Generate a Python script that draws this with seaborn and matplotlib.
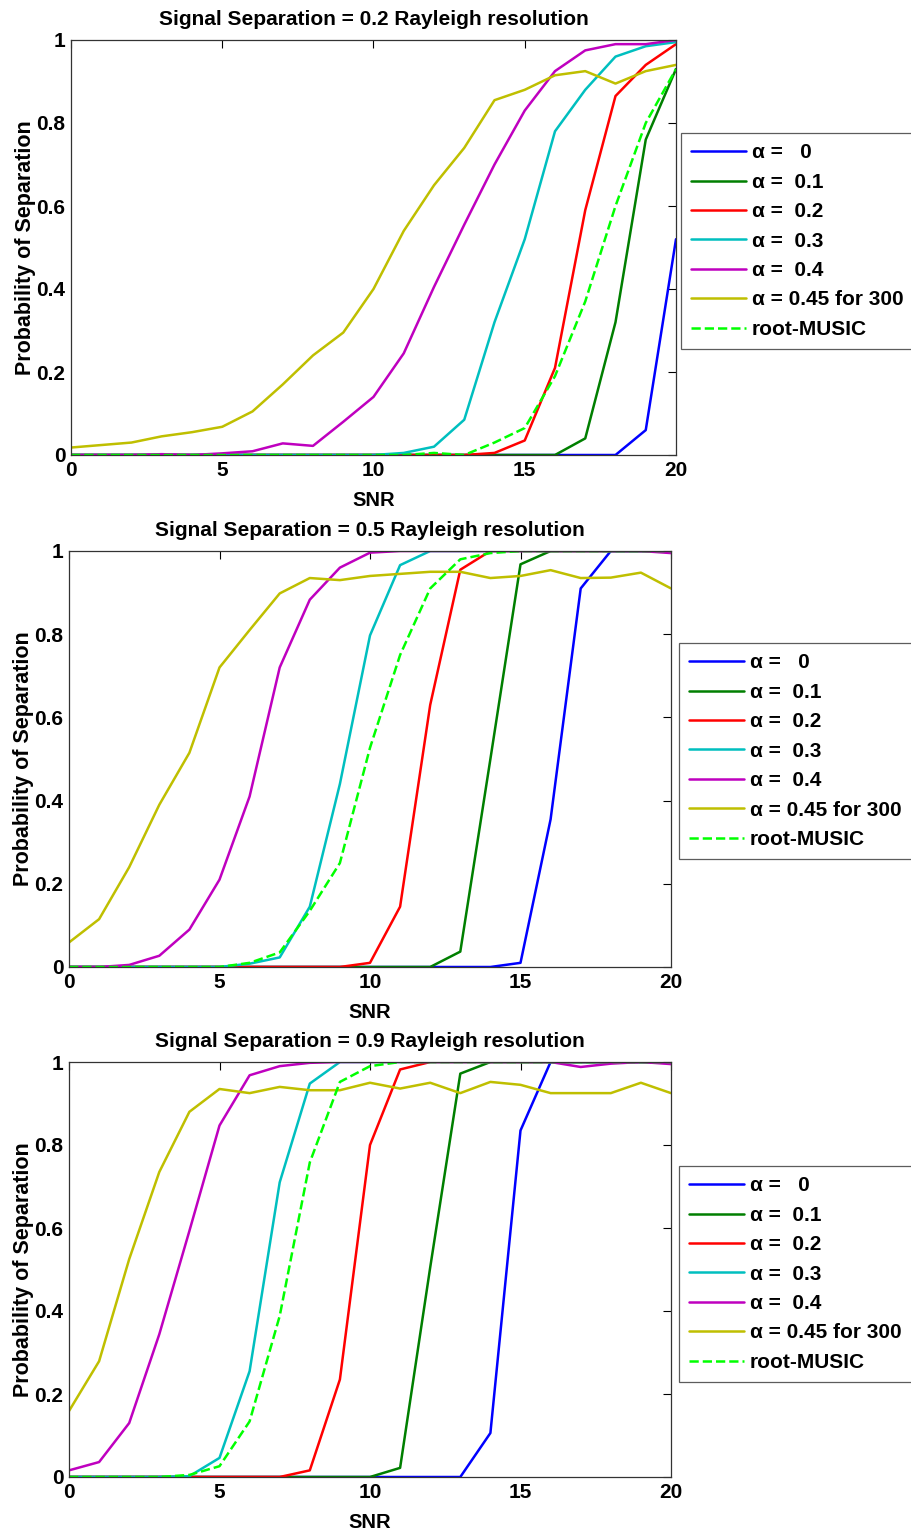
import numpy as np
import pandas as pd
import matplotlib
matplotlib.use("Agg")
import matplotlib.pyplot as plt
import seaborn as sns
from matplotlib.lines import Line2D
from matplotlib.ticker import FormatStrFormatter

snr = list(range(21))
labels = ["α =   0", "α =  0.1", "α =  0.2", "α =  0.3", "α =  0.4",
          "α = 0.45 for 300", "root-MUSIC"]
titles = ["Signal Separation = 0.2 Rayleigh resolution",
          "Signal Separation = 0.5 Rayleigh resolution",
          "Signal Separation = 0.9 Rayleigh resolution"]

# Panel 1 (0.2 Rayleigh)
blue1 = [0]*19 + [0.06, 0.52]
green1 = [0]*17 + [0.04, 0.32, 0.76, 0.93]
red1 = [0]*14 + [0.005, 0.035, 0.21, 0.59, 0.865, 0.94, 0.99]
cyan1 = [0]*11 + [0.005, 0.02, 0.085, 0.32, 0.52, 0.78, 0.88, 0.96, 0.985, 0.995]
mag1 = [0, 0, 0, 0.002, 0, 0.004, 0.009, 0.028, 0.022, 0.08, 0.14, 0.245, 0.405,
        0.555, 0.70, 0.83, 0.925, 0.975, 0.99, 0.99, 1.0]
yel1 = [0.018, 0.024, 0.03, 0.045, 0.055, 0.068, 0.105, 0.17, 0.24, 0.295, 0.40,
        0.54, 0.65, 0.74, 0.855, 0.88, 0.915, 0.925, 0.895, 0.925, 0.94]
music1 = [0]*12 + [0.005, 0.0, 0.03, 0.065, 0.19, 0.37, 0.6, 0.8, 0.93]

# Panel 2 (0.5 Rayleigh)
blue2 = [0]*15 + [0.01, 0.355, 0.91, 1, 1, 1]
green2 = [0]*13 + [0.037, 0.50, 0.968, 1, 1, 1, 1, 1]
red2 = [0]*10 + [0.01, 0.145, 0.63, 0.955, 1, 1, 1, 1, 1, 1, 1]
cyan2 = [0]*6 + [0.008, 0.023, 0.145, 0.44, 0.797, 0.966] + [1]*9
mag2 = [0, 0, 0.005, 0.027, 0.09, 0.21, 0.41, 0.72, 0.883, 0.96, 0.996, 1, 1, 1,
        1, 1, 1, 1, 1, 1, 0.995]
yel2 = [0.059, 0.115, 0.24, 0.39, 0.515, 0.72, 0.81, 0.898, 0.935, 0.93, 0.94,
        0.945, 0.95, 0.95, 0.935, 0.94, 0.954, 0.935, 0.936, 0.948, 0.91]
music2 = [0, 0, 0, 0, 0, 0, 0.01, 0.035, 0.135, 0.25, 0.527, 0.75, 0.91, 0.98,
          0.995, 1, 1, 1, 1, 1, 1]

# Panel 3 (0.9 Rayleigh)
blue3 = [0]*14 + [0.106, 0.835, 1, 1, 1, 1, 1]
green3 = [0]*11 + [0.022, 0.505, 0.972] + [1]*7
red3 = [0]*8 + [0.016, 0.235, 0.80, 0.982] + [1]*9
cyan3 = [0, 0, 0, 0, 0.002, 0.046, 0.255, 0.71, 0.948] + [1]*12
mag3 = [0.016, 0.036, 0.13, 0.344, 0.593, 0.847, 0.968, 0.99, 0.998, 1, 1, 1, 1,
        1, 1, 1, 1, 0.988, 0.996, 1, 0.995]
yel3 = [0.159, 0.279, 0.525, 0.735, 0.88, 0.935, 0.925, 0.94, 0.932, 0.932, 0.95,
        0.936, 0.95, 0.925, 0.952, 0.945, 0.925, 0.925, 0.925, 0.95, 0.925]
music3 = [0, 0, 0, 0, 0.005, 0.026, 0.134, 0.388, 0.758, 0.952, 0.99] + [1]*10

panels = [
    [blue1, green1, red1, cyan1, mag1, yel1, music1],
    [blue2, green2, red2, cyan2, mag2, yel2, music2],
    [blue3, green3, red3, cyan3, mag3, yel3, music3],
]

colors = ["#0000ff", "#007f00", "#ff0000", "#00bfbf", "#bf00bf", "#bfbf00", "#00ff00"]
styles = ["-", "-", "-", "-", "-", "-", "--"]

sns.set_style("white")
plt.rcParams["font.family"] = ["Liberation Sans", "DejaVu Sans"]
plt.rcParams["font.weight"] = "bold"
plt.rcParams["text.color"] = "black"
plt.rcParams["axes.labelcolor"] = "black"
plt.rcParams["xtick.color"] = "black"
plt.rcParams["ytick.color"] = "black"

fig = plt.figure(figsize=(9.12, 15.36), dpi=100)
W, H = 912.0, 1536.0
axes_px = [(71, 40, 676, 455), (69, 551, 671, 967), (69, 1062, 671, 1477)]
legend_px = [(681, 133), (679, 643), (679, 1166)]
LW = 1.8

for i, (series, (l, t, r, b)) in enumerate(zip(panels, axes_px)):
    ax = fig.add_axes([l / W, 1 - b / H, (r - l) / W, (b - t) / H])
    for vals, c, ls, lab in zip(series, colors, styles, labels):
        df = pd.DataFrame({"SNR": snr, "P": vals})
        sns.lineplot(data=df, x="SNR", y="P", ax=ax, color=c, linestyle=ls,
                     linewidth=LW, label=lab, legend=False)
    ax.set_xlim(0, 20)
    ax.set_ylim(0, 1)
    ax.set_xticks([0, 5, 10, 15, 20])
    ax.set_yticks([0, 0.2, 0.4, 0.6, 0.8, 1])
    ax.yaxis.set_major_formatter(FormatStrFormatter("%g"))
    ax.tick_params(direction="in", length=6, width=0.8, top=True, right=True,
                   labelsize=15, pad=4, colors="black")
    for sp in ax.spines.values():
        sp.set_color("#333333")
        sp.set_linewidth(0.9)
    ax.set_xlabel("SNR", fontsize=14.5, fontweight="bold", labelpad=8)
    ax.set_ylabel("Probability of Separation", fontsize=15.5, fontweight="bold",
                  labelpad=0)
    ax.set_title(titles[i], fontsize=15, fontweight="bold", pad=11)
    handles = [Line2D([0], [0], color=c, linestyle=ls, linewidth=LW)
               for c, ls in zip(colors, styles)]
    lx, ly = legend_px[i]
    leg = fig.legend(handles, labels, loc="upper left",
                     bbox_to_anchor=(lx / W, 1 - ly / H),
                     prop={"size": 15, "weight": "bold"},
                     frameon=True, fancybox=False, handlelength=2.6,
                     handletextpad=0.3, labelspacing=0.5, borderpad=0.5,
                     borderaxespad=0)
    leg.get_frame().set_edgecolor("#333333")
    leg.get_frame().set_linewidth(0.9)

fig.savefig("out.png", dpi=100)
